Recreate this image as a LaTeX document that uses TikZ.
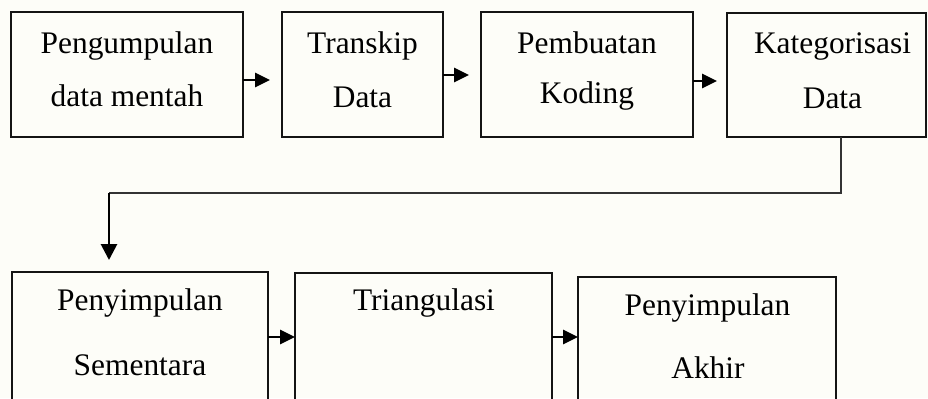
\documentclass[tikz,border=0pt]{standalone}
\usepackage{fontspec}
\setmainfont{Liberation Serif}
\usetikzlibrary{arrows.meta}
\definecolor{bgcol}{RGB}{253,253,248}
\definecolor{linecol}{RGB}{20,20,20}
\begin{document}
\begin{tikzpicture}[x=0.5pt,y=-0.5pt,
  box/.style={draw=linecol,line width=1pt,rectangle,inner sep=0pt,outer sep=0pt},
  txt/.style={anchor=base,inner sep=0pt,font=\fontsize{15.7}{18}\selectfont},
  arr/.style={draw=black,line width=1.4pt,-{Triangle[length=7.5pt,width=7pt]}},
  varr/.style={draw=black,line width=1.4pt,-{Triangle[length=8pt,width=8pt]}},
  thinline/.style={draw=black!80,line width=0.7pt}]
\fill[bgcol] (0,0) rectangle (928,398);
\useasboundingbox (0,0) rectangle (928,398);
% boxes
\node[box,minimum width=116pt,minimum height=62.5pt] (b1) at (127,74.5) {};
\node[box,minimum width=80.5pt,minimum height=62.5pt] (b2) at (362.5,74.5) {};
\node[box,minimum width=106pt,minimum height=62.5pt] (b3) at (587,74.5) {};
\node[box,minimum width=99.5pt,minimum height=62pt] (b4) at (826.5,75) {};
\node[box,minimum width=128pt,minimum height=65pt] (b5) at (140,337) {};
\node[box,minimum width=128.5pt,minimum height=64.5pt] (b6) at (423.5,337.5) {};
\node[box,minimum width=129pt,minimum height=62.5pt] (b7) at (707,339.5) {};
% texts
\node[txt] (t1a) at (127,53) {Pengumpulan};
\node[txt] (t1b) at (127,106) {data mentah};
\node[txt] (t2a) at (362.5,53) {Transkip};
\node[txt] (t2b) at (362.5,107) {Data};
\node[txt] (t3a) at (587,53) {Pembuatan};
\node[txt] (t3b) at (587,103) {Koding};
\node[txt] (t4a) at (832.5,53) {Kategorisasi};
\node[txt] (t4b) at (832.5,108) {Data};
\node[txt] (t5a) at (140,310) {Penyimpulan};
\node[txt] (t5b) at (140,375) {Sementara};
\node[txt] (t6a) at (424,310) {Triangulasi};
\node[txt] (t7a) at (707.5,315) {Penyimpulan};
\node[txt] (t7b) at (708,378) {Akhir};
% arrow ends
\coordinate (e1) at (270,80);
\coordinate (e2) at (469,75);
\coordinate (e3) at (717,81);
\coordinate (e5) at (295,337);
\coordinate (e6) at (578,337);
\coordinate (c1) at (841,193);
\coordinate (c2) at (109,193);
\coordinate (c3) at (109,260);
% arrows
\draw[arr] (b1.east |- e1) -- (e1);
\draw[arr] (b2.east |- e2) -- (e2);
\draw[arr] (b3.east |- e3) -- (e3);
\draw[arr] (b5.east |- e5) -- (b6.west |- e5);
\draw[arr] (b6.east |- e6) -- (b7.west |- e6);
\draw[thinline] (b4.south -| c1) -- (c1) -- (c2);
\draw[varr] (c2) -- (c3);
\end{tikzpicture}
\end{document}
